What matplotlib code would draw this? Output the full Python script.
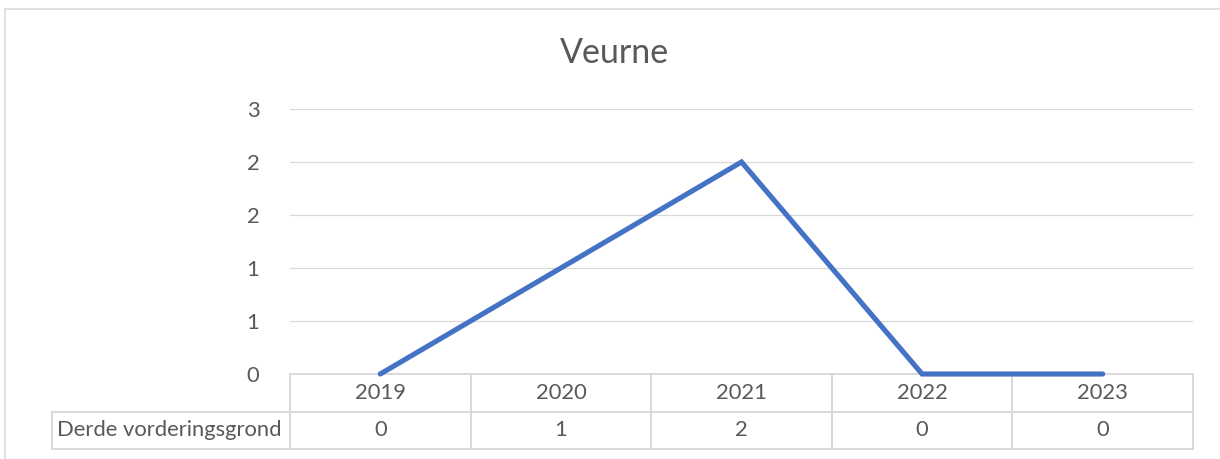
import matplotlib
matplotlib.use('Agg')
from matplotlib import pyplot as plt
from matplotlib.lines import Line2D
from matplotlib.patches import Rectangle

# Data for the chart and its data table
years = ['2019', '2020', '2021', '2022', '2023']
values = [0, 1, 2, 0, 0]
series_name = 'Derde vorderingsgrond'
y_ticks = [0, 0.5, 1, 1.5, 2, 2.5]
y_tick_labels = ['0', '1', '1', '2', '2', '3']
title = 'Veurne'

W, H = 1220, 459
text_color = '#595959'
grid_color = '#D9D9D9'
line_color = '#4472C4'
fs = 15.8

plt.rcParams['font.family'] = ['Lato', 'DejaVu Sans']

fig = plt.figure(figsize=(W / 100, H / 100), dpi=100)


def fx(px):
    return px / W


def fy(py):
    return 1 - py / H


# Chart outer border
fig.patches.append(Rectangle((fx(5), fy(470)), fx(1240) - fx(5), fy(9) - fy(470),
                             transform=fig.transFigure, fill=False,
                             edgecolor=grid_color, linewidth=1.2, zorder=-2))

# Plot area
left, right, top, bottom = 290, 1193, 109, 374
ax = fig.add_axes([fx(left), fy(bottom), fx(right) - fx(left), fy(top) - fy(bottom)])
x = list(range(len(years)))
ax.plot(x, values, color=line_color, linewidth=3.7, solid_capstyle='round',
        solid_joinstyle='miter', zorder=3, clip_on=False)
ax.set_xlim(-0.5, len(years) - 0.5)
ax.set_ylim(0, 2.5)
ax.set_yticks(y_ticks)
ax.set_yticklabels(y_tick_labels)
ax.yaxis.grid(True, color=grid_color, linewidth=0.9)
ax.set_axisbelow(True)
ax.tick_params(axis='y', length=0, pad=22, labelsize=fs, labelcolor=text_color)
ax.set_xticks([])
for side in ['top', 'right', 'left', 'bottom']:
    ax.spines[side].set_visible(False)
ax.patch.set_alpha(0)

fig.text(fx(614), fy(53), title, ha='center', va='center',
         fontsize=24.5, color=text_color)

# Data table below the plot (drawn beneath the axes so the series sits on top)
row1_top, row1_bot, row2_bot = 374, 412, 449
label_left = 52
col_w = (right - left) / len(years)


def hline(x0, x1, y):
    fig.lines.append(Line2D([fx(x0), fx(x1)], [fy(y), fy(y)], transform=fig.transFigure,
                            color=grid_color, linewidth=1.4, zorder=-1))


def vline(xp, y0, y1):
    fig.lines.append(Line2D([fx(xp), fx(xp)], [fy(y0), fy(y1)], transform=fig.transFigure,
                            color=grid_color, linewidth=1.4, zorder=-1))


hline(left, right, row1_top)
hline(label_left, right, row1_bot)
hline(label_left, right, row2_bot)
vline(label_left, row1_bot, row2_bot)
for i in range(len(years) + 1):
    vline(left + i * col_w, row1_top, row2_bot)

for i, (yr, v) in enumerate(zip(years, values)):
    cx = left + (i + 0.5) * col_w
    fig.text(fx(cx), fy((row1_top + row1_bot) / 2), yr, ha='center', va='center',
             fontsize=fs, color=text_color)
    fig.text(fx(cx), fy((row1_bot + row2_bot) / 2), str(v), ha='center', va='center',
             fontsize=fs, color=text_color)
fig.text(fx(label_left + 5), fy((row1_bot + row2_bot) / 2), series_name, ha='left',
         va='center', fontsize=fs, color=text_color)

fig.savefig('out.png', dpi=100)
